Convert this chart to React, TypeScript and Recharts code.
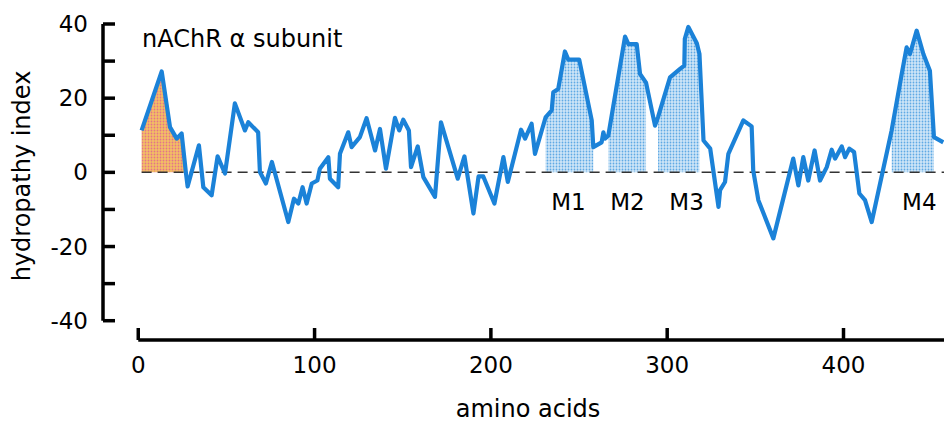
import { ComposedChart, Area, Line, XAxis, YAxis, ReferenceLine, ReferenceDot } from 'recharts';

const residue = [
  1.9, 13.3, 18.0, 21.8, 24.6, 27.0, 28.0, 34.4, 36.9, 41.6, 45.0, 49.2, 54.8, 60.5, 62.4, 68.0,
  69.0, 72.4, 75.8, 85.1, 88.3, 90.8, 93.2, 95.5, 98.4, 101.6, 103.0, 107.8, 108.7, 113.4, 114.4,
  119.1, 121.0, 125.7, 129.5, 134.3, 137.1, 140.5, 145.6, 148.0, 150.3, 153.5, 154.7, 158.5, 161.7,
  168.3, 171.7, 181.2, 185.0, 190.1, 193.0, 195.7, 202.0, 207.1, 209.6, 217.1, 219.4, 223.1, 225.0,
  231.0, 234.5, 235.4, 238.2, 242.0, 243.9, 250.1, 257.2, 258.1, 262.8, 263.8, 264.7, 266.6, 276.1,
  278.0, 282.7, 284.6, 288.0, 293.1, 294.8, 301.6, 307.3, 309.7, 310.0, 312.0, 316.8, 318.3, 320.6,
  324.4, 329.1, 330.0, 332.8, 334.7, 343.2, 347.9, 348.8, 351.7, 360.2, 371.5, 374.4, 377.2, 380.0,
  383.6, 386.7, 390.5, 393.3, 395.2, 399.0, 400.9, 403.3, 406.0, 409.0, 412.2, 416.0, 427.3, 433.0,
  435.8, 437.7, 441.5, 445.3, 449.0, 451.3, 456.6,
];
const hydropathy = [
  11.3, 27.2, 12.2, 9.1, 10.5, 0.0, -3.8, 7.3, -4.0, -6.2, 4.3, -0.3, 18.6, 11.3, 13.5, 10.8,
  0.1, -3.0, 2.8, -13.4, -7.1, -8.4, -4.0, -8.4, -3.0, -2.2, 1.0, 4.1, -1.7, -4.0, 5.0,
  10.8, 6.8, 9.5, 14.6, 5.9, 11.7, 1.0, 14.7, 11.3, 14.2, 11.3, 1.4, 7.0, -1.3,
  -6.6, 13.5, -1.7, 4.3, -11.1, -1.1, -1.1, -8.4, 4.1, -2.6, 11.5, 9.1, 13.1, 5.0,
  14.8, 16.7, 21.6, 22.5, 32.6, 30.4, 30.4, 14.0, 6.8, 8.1, 10.8, 9.1, 9.9, 36.6,
  34.6, 34.6, 26.5, 24.2, 12.6, 14.9, 25.6, 27.9, 28.8, 36.0, 39.2, 34.8, 31.9, 8.6,
  6.4, -9.3, -4.8, -2.6, 5.0, 14.0, 12.4, 0.5, -7.5, -17.8, 3.7, -3.5, 4.1, -2.2,
  5.9, -2.2, 1.4, 6.1, 3.7, 7.0, 4.1, 6.4, 5.5, -5.7, -7.5, -13.4, 11.3, 26.5,
  33.7, 31.9, 38.2, 31.9, 27.4, 9.5, 8.1,
];

// signal peptide and transmembrane segments
const signalRange = [1.9, 27.0];
const segStart = [231.0, 266.6, 294.8, 427.3];
const segEnd = [258.1, 288.0, 318.3, 451.3];
const segLabels = ['M1', 'M2', 'M3', 'M4'];
const segLabelPos = [244, 277.5, 311, 443];

const xTicks = [0, 100, 200, 300, 400];
const yTicks = [-40, -30, -20, -10, 0, 10, 20, 30, 40];
const yLabelTicks = [-40, -20, 0, 20, 40];

const FONT = '"DejaVu Sans", Arial, sans-serif';
const LINE_BLUE = '#1b82d8';

const inSegment = (x: number) => segStart.some((s, i) => x >= s && x <= segEnd[i]);

const chartData = residue.map((x, i) => ({
  x,
  y: hydropathy[i],
  signal: x >= signalRange[0] && x <= signalRange[1] ? hydropathy[i] : null,
  tm: inSegment(x) ? hydropathy[i] : null,
}));

const XTick = ({ x, y, payload }: any) => (
  <g>
    <line x1={x} x2={x} y1={y} y2={y - 12} stroke="#000" strokeWidth={3.5} />
    <text x={x} y={y + 33} textAnchor="middle" fontSize={23} fontFamily={FONT} fill="#000">
      {payload.value}
    </text>
  </g>
);

const YTick = ({ x, y, payload }: any) => (
  <g>
    <line x1={x} x2={x + 12} y1={y} y2={y} stroke="#000" strokeWidth={3.5} />
    {yLabelTicks.includes(payload.value) && (
      <text x={x - 15} y={y} dy={8} textAnchor="end" fontSize={23} fontFamily={FONT} fill="#000">
        {payload.value}
      </text>
    )}
  </g>
);

export default function App() {
  return (
    <div style={{ position: 'absolute', left: 0, top: 0, width: 944, height: 424, background: '#fff' }}>
      <ComposedChart width={944} height={424} data={chartData} margin={{ top: 24, right: 0, bottom: 0, left: 0 }}>
        <defs>
          <pattern id="dotsBlue" width="3" height="3" patternUnits="userSpaceOnUse">
            <rect width="3" height="3" fill="#cfe6f8" />
            <circle cx="1.5" cy="1.5" r="0.9" fill="#5fa9e4" />
          </pattern>
          <pattern id="dotsOrange" width="3" height="3" patternUnits="userSpaceOnUse">
            <rect width="3" height="3" fill="#f3c064" />
            <circle cx="1.5" cy="1.5" r="0.9" fill="#e4738a" />
          </pattern>
        </defs>
        <XAxis
          dataKey="x"
          type="number"
          domain={[-20, 457]}
          allowDataOverflow
          ticks={xTicks}
          interval={0}
          height={84}
          axisLine={false}
          tickLine={false}
          tickSize={0}
          tickMargin={0}
          tick={XTick}
        />
        <YAxis
          type="number"
          domain={[-45.2, 40]}
          allowDataOverflow
          ticks={yTicks}
          interval={0}
          width={103}
          axisLine={false}
          tickLine={false}
          tickSize={0}
          tickMargin={0}
          tick={YTick}
        />
        <ReferenceLine
          segment={[{ x: 1.9, y: 0 }, { x: 457, y: 0 }]}
          stroke="#333"
          strokeWidth={1.5}
          strokeDasharray="10 6"
          ifOverflow="visible"
        />
        <Area
          type="linear"
          dataKey="signal"
          baseValue={0}
          fill="url(#dotsOrange)"
          fillOpacity={1}
          stroke="none"
          dot={false}
          activeDot={false}
          isAnimationActive={false}
        />
        <Area
          type="linear"
          dataKey="tm"
          baseValue={0}
          fill="url(#dotsBlue)"
          fillOpacity={1}
          stroke="none"
          dot={false}
          activeDot={false}
          isAnimationActive={false}
        />
        <Line
          type="linear"
          dataKey="y"
          stroke={LINE_BLUE}
          strokeWidth={4.2}
          strokeLinejoin="round"
          dot={false}
          activeDot={false}
          isAnimationActive={false}
        />
        <ReferenceLine
          segment={[{ x: -20, y: -40 }, { x: -20, y: 40 }]}
          stroke="#000"
          strokeWidth={3.5}
          ifOverflow="visible"
        />
        <ReferenceLine
          segment={[{ x: 0, y: -45.2 }, { x: 457, y: -45.2 }]}
          stroke="#000"
          strokeWidth={3.5}
          ifOverflow="visible"
        />
        {segLabels.map((label, i) => (
          <ReferenceDot
            key={label}
            x={segLabelPos[i]}
            y={-8}
            r={0}
            fill="none"
            stroke="none"
            ifOverflow="visible"
            label={{ value: label, position: 'center', fontSize: 23, fill: '#000', fontFamily: FONT }}
          />
        ))}
        <text x={142} y={47} fontSize={24} fontFamily={FONT} fill="#000">
          nAChR α subunit
        </text>
        <text x={30} y={176} transform="rotate(-90 30 176)" textAnchor="middle" fontSize={24} fontFamily={FONT} fill="#000">
          hydropathy index
        </text>
        <text x={528} y={417} textAnchor="middle" fontSize={24} fontFamily={FONT} fill="#000">
          amino acids
        </text>
      </ComposedChart>
    </div>
  );
}
